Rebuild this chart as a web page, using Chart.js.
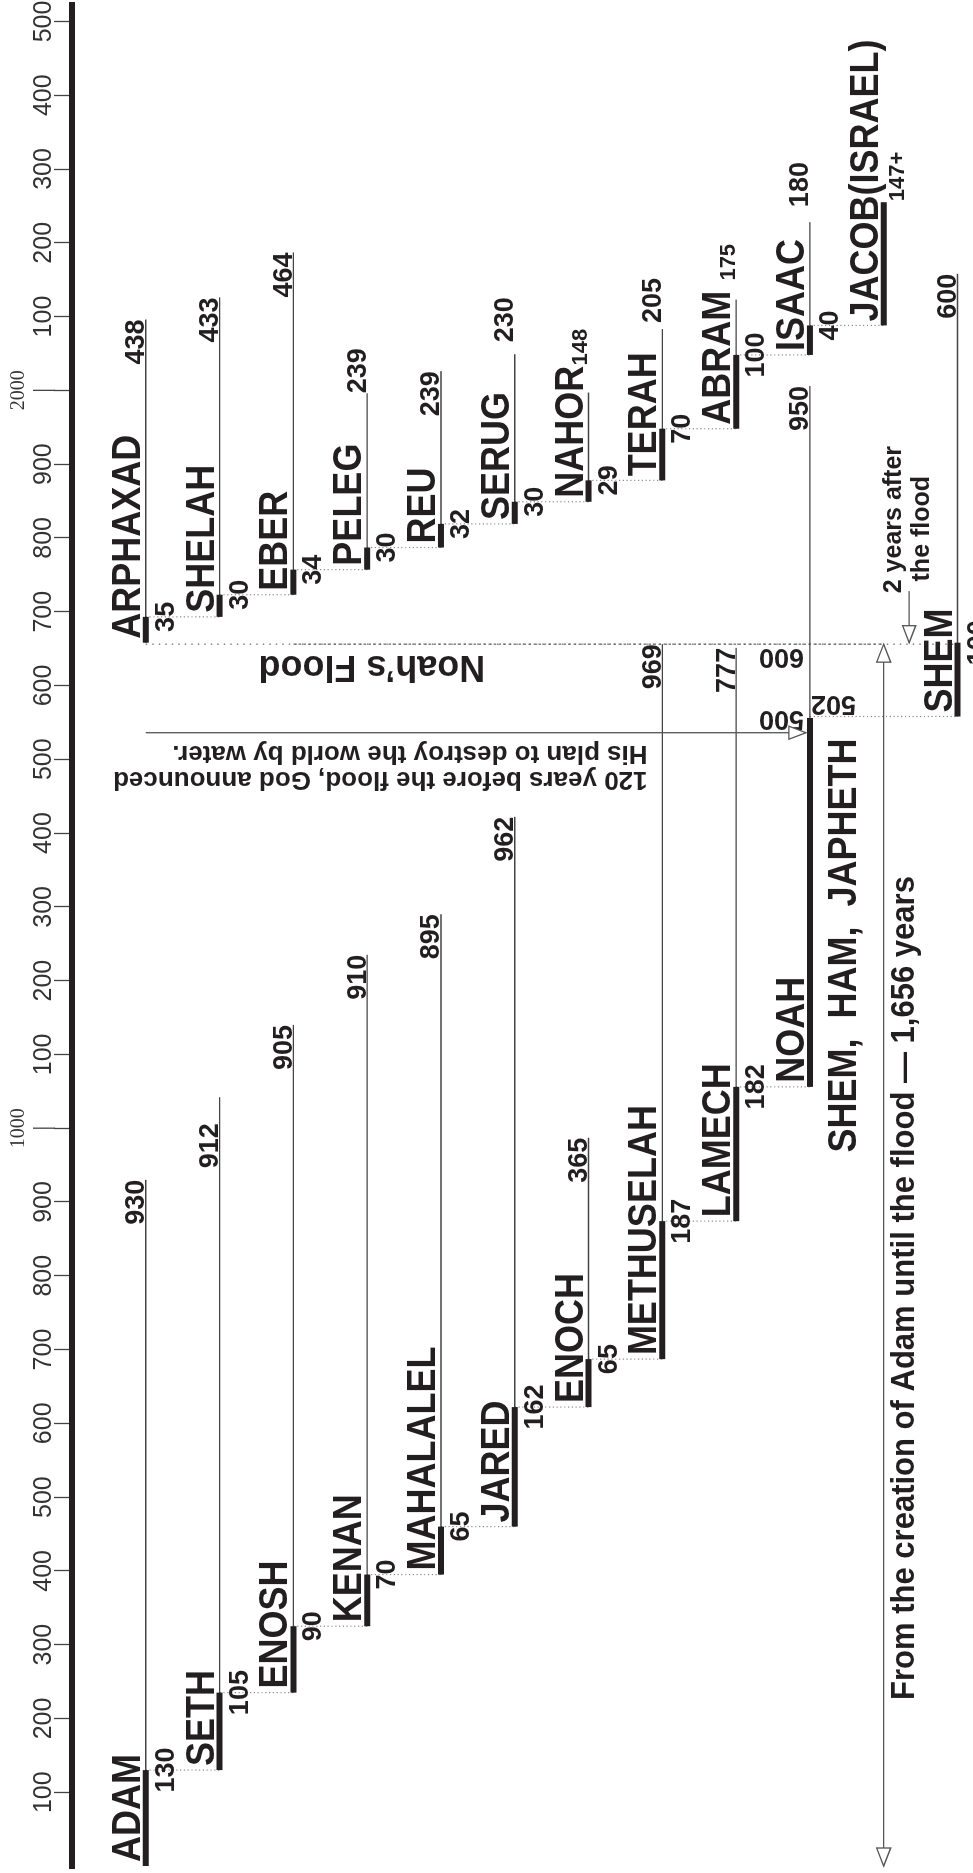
<!DOCTYPE html>
<html><head><meta charset="utf-8">
<script src="https://cdn.jsdelivr.net/npm/chart.js@4.4.1/dist/chart.umd.min.js"></script>
<style>
html,body{margin:0;padding:0;background:#fff;overflow:hidden;width:973px;height:1873px;}
#wrap{position:absolute;left:0;top:0;width:1873px;height:973px;transform-origin:0 0;transform:translateY(1873px) rotate(-90deg);}
canvas{display:block;}
</style></head><body>
<div id="wrap"><canvas id="c" width="1873" height="973" style="width:1873px;height:973px"></canvas></div>
<script>
// ---- data (years from creation) ----
const preNames = ['ADAM','SETH','ENOSH','KENAN','MAHALALEL','JARED','ENOCH','METHUSELAH','LAMECH','NOAH'];
const preBirth = [0,130,235,325,395,460,622,687,874,1056];
const preSonAge = [130,105,90,70,65,162,65,187,182,500];
const preLifespan = [930,912,905,910,895,962,365,969,777,950];

const postNames = ['ARPHAXAD','SHELAH','EBER','PELEG','REU','SERUG','NAHOR','TERAH','ABRAM','ISAAC','JACOB(ISRAEL)','SHEM'];
const postBirth = [1658,1693,1723,1757,1787,1819,1849,1878,1948,2048,2088,1558];
const postSonAge = [35,30,34,30,32,30,29,70,100,40,167,100];
const postLifespan = [438,433,464,239,239,230,148,205,175,180,null,600];
const jacobAgeLabel = '147+';

const floodYear = 1656;
const announceYear = 1536;
const tickValues = [100,200,300,400,500,600,700,800,900,1000,1100,1200,1300,1400,1500,1600,1700,1800,1900,2000,2100,2200,2300,2400,2500];

const txtFlood = 'Noah\u2019s Flood';
const txtAnnounce1 = '120 years before the flood, God announced';
const txtAnnounce2 = 'His plan to destroy the world by water.';
const txtSons = 'SHEM,  HAM,  JAPHETH';
const txtCreation = 'From the creation of Adam until the flood \u2014 1,656 years';
const txtAfter1 = '2 years after';
const txtAfter2 = 'the flood';

// ---- build bar data from arrays ----
const sonBars = [], lifeBars = [];
preNames.forEach((n, i) => {
  sonBars.push({x: [preBirth[i], preBirth[i] + preSonAge[i]], y: i});
  lifeBars.push({x: [preBirth[i], preBirth[i] + preLifespan[i]], y: i});
});
postNames.forEach((n, i) => {
  sonBars.push({x: [postBirth[i], postBirth[i] + postSonAge[i]], y: i});
  if (postLifespan[i] != null) lifeBars.push({x: [postBirth[i], postBirth[i] + postLifespan[i]], y: i});
});

const FAM = '"Liberation Sans", Arial, Helvetica, sans-serif';
const F = (size, w = 'bold') => `${w} ${size}px ${FAM}`;
const INK = '#231f20';

function T(ctx, s, px, py, o = {}) {
  ctx.save();
  ctx.translate(px, py);
  if (o.rot) ctx.rotate(o.rot);
  if (o.sx) ctx.scale(o.sx, 1);
  ctx.font = o.font || F(27);
  ctx.fillStyle = o.color || INK;
  ctx.textAlign = o.align || 'left';
  ctx.textBaseline = 'alphabetic';
  ctx.fillText(s, 0, 0);
  ctx.restore();
}
function head(ctx, tx, ty, dx, dy, len = 17, half = 6.5) {
  const bx = tx - dx * len, by = ty - dy * len, nx = -dy, ny = dx;
  ctx.beginPath();
  ctx.moveTo(tx, ty);
  ctx.lineTo(bx + nx * half, by + ny * half);
  ctx.lineTo(bx - nx * half, by - ny * half);
  ctx.closePath();
  ctx.fillStyle = '#fff';
  ctx.fill();
  ctx.stroke();
}

// label placement tweaks for lifespan numbers: [pixel shift, align, font size]
const lifeLabelPlace = {
  SETH: [-26, 'right'], PELEG: [0, 'left'], SERUG: [12, 'left'], NAHOR: [27, 'left', 22],
  TERAH: [6, 'left'], ABRAM: [19, 'left', 22], ISAAC: [15, 'left']
};
const NAME = {font: F(40), sx: 0.9};

const annot = {
  id: 'annot',
  beforeDatasetsDraw(chart) {
    const {ctx, scales: {x, y}, chartArea} = chart;
    const X = v => x.getPixelForValue(v), Y = r => y.getPixelForValue(r);
    ctx.save();
    // longer major ticks
    ctx.strokeStyle = '#444'; ctx.lineWidth = 1.3;
    [1000, 2000].forEach(v => {
      ctx.beginPath(); ctx.moveTo(X(v), chartArea.top - 17); ctx.lineTo(X(v), chartArea.top - 39); ctx.stroke();
    });
    // dotted connectors
    ctx.strokeStyle = '#8c8c8c'; ctx.lineWidth = 1.2; ctx.setLineDash([1.2, 2.6]);
    const seg = (yr, r0, r1) => { ctx.beginPath(); ctx.moveTo(X(yr), Y(r0)); ctx.lineTo(X(yr), Y(r1)); ctx.stroke(); };
    for (let i = 0; i < preNames.length - 1; i++) seg(preBirth[i] + preSonAge[i], i, i + 1);
    for (let i = 0; i < 10; i++) seg(postBirth[i] + postSonAge[i], i, i + 1);
    seg(postBirth[11], 9, 11);
    // flood line
    ctx.strokeStyle = '#666'; ctx.setLineDash([1.5, 5]);
    seg(floodYear, 0, 11);
    ctx.setLineDash([2.5, 2.5]);
    seg(floodYear, 2, 10);
    ctx.restore();
  },
  afterDatasetsDraw(chart) {
    const {ctx, scales: {x, y}} = chart;
    const X = v => x.getPixelForValue(v), Y = r => y.getPixelForValue(r);
    const up = -Math.PI / 2;
    // names
    preNames.forEach((n, i) => T(ctx, n, X(preBirth[i]) + 4, Y(i) - 6, NAME));
    postNames.forEach((n, i) => T(ctx, n, X(postBirth[i]) + 4, Y(i) - 6, NAME));
    // age at son's birth
    preSonAge.forEach((a, i) => {
      if (i === 9) return;
      T(ctx, String(a), X(preBirth[i] + a), Y(i) + 28, {align: 'center'});
    });
    postSonAge.forEach((a, i) => {
      if (i === 10) { T(ctx, jacobAgeLabel, X(postBirth[i] + a) + 1, Y(i) + 20, {font: F(22)}); return; }
      T(ctx, String(a), X(postBirth[i] + a), Y(i) + 28, {align: 'center'});
    });
    // lifespans
    const life = (n, b, l, r) => {
      if (l == null) return;
      const p = lifeLabelPlace[n] || [0, 'right'];
      T(ctx, String(l), X(b + l) + p[0], Y(r) - 1.5, {align: p[1], font: F(p[2] || 27)});
    };
    preNames.forEach((n, i) => life(n, preBirth[i], preLifespan[i], i));
    postNames.forEach((n, i) => life(n, postBirth[i], postLifespan[i], i));

    // Noah's special (upside-down) numbers
    const noahBirth = preBirth[9];
    T(ctx, String(floodYear - noahBirth), X(1649), Y(9) - 6, {rot: up});
    T(ctx, String(preSonAge[9]), X(1565), Y(9) - 6, {rot: up});
    T(ctx, String(postBirth[11] - noahBirth), X(1586), Y(9) + 46, {rot: up});

    // captions
    T(ctx, txtFlood, X(1640), Y(4.6), {rot: up, font: F(36)});
    T(ctx, txtAnnounce1, X(1483), Y(6.8), {rot: up, font: F(26)});
    T(ctx, txtAnnounce2, X(1518), Y(6.8), {rot: up, font: F(26)});
    T(ctx, txtSons, X(967), Y(10) - 28, NAME);
    T(ctx, txtCreation, X(225), Y(10) + 30, {font: F(33), sx: 0.94});
    T(ctx, txtAfter1, X(1725), Y(10) + 17, {font: F(25)});
    T(ctx, txtAfter2, X(1741), Y(10) + 45, {font: F(25)});

    // arrows
    ctx.save();
    ctx.strokeStyle = '#555'; ctx.lineWidth = 1.3;
    ctx.beginPath(); ctx.moveTo(X(0), Y(10)); ctx.lineTo(X(floodYear), Y(10)); ctx.stroke();
    head(ctx, X(0), Y(10), -1, 0, 18, 7);
    head(ctx, X(floodYear), Y(10), 1, 0, 18, 7);
    const ya = Y(10) + 25.5;
    ctx.beginPath(); ctx.moveTo(X(1728), ya); ctx.lineTo(X(postBirth[0]), ya); ctx.stroke();
    head(ctx, X(postBirth[0]), ya, -1, 0, 17, 6.5);
    ctx.beginPath(); ctx.moveTo(X(announceYear), Y(0)); ctx.lineTo(X(announceYear), Y(9) - 4); ctx.stroke();
    head(ctx, X(announceYear), Y(9) - 4, 0, 1, 17, 6.5);
    ctx.restore();
  }
};

Chart.defaults.font.family = FAM;
new Chart(document.getElementById('c'), {
  type: 'bar',
  data: {
    datasets: [
      {label: 'Age at birth of son', data: sonBars, backgroundColor: INK, maxBarThickness: 6, grouped: false, borderWidth: 0},
      {label: 'Lifespan', data: lifeBars, backgroundColor: '#444', maxBarThickness: 1.4, grouped: false, borderWidth: 0}
    ]
  },
  options: {
    indexAxis: 'y',
    responsive: false,
    animation: false,
    events: [],
    layout: {padding: {left: 7, right: 3, top: 0, bottom: 0}},
    plugins: {legend: {display: false}, tooltip: {enabled: false}},
    scales: {
      x: {
        type: 'linear', position: 'top', min: 0, max: 2525, offset: false,
        afterFit: s => { s.height = 72; },
        afterBuildTicks: s => { s.ticks = tickValues.map(v => ({value: v})); },
        grid: {drawOnChartArea: false, drawTicks: true, tickLength: 18, tickColor: '#444', tickWidth: 1.3},
        border: {display: true, color: INK, width: 6},
        ticks: {
          autoSkip: false, maxRotation: 0, minRotation: 0, padding: -2.5, color: '#333',
          callback: v => (v % 1000 === 0 ? [String(v), ''] : String(v % 1000)),
          font: c => (c.tick && c.tick.value % 1000 === 0)
            ? {family: '"Liberation Serif", "Times New Roman", serif', size: 20, weight: 'normal', lineHeight: 1.27}
            : {family: '"Liberation Sans Narrow", ' + FAM, size: 25, weight: 'normal', lineHeight: 1}
        }
      },
      y: {type: 'linear', min: -1, max: 11.21, reverse: true, display: false, offset: false}
    }
  },
  plugins: [annot]
});
</script></body></html>
